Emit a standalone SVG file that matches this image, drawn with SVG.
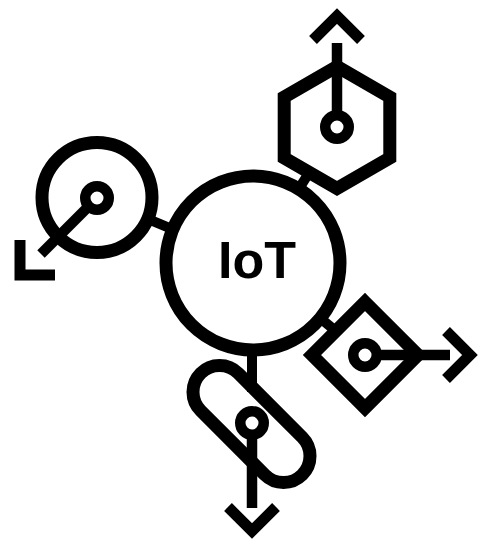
<svg xmlns="http://www.w3.org/2000/svg" width="481" height="540" viewBox="0 0 481 540">
<style>
.shape{fill:none;stroke:#000;stroke-width:13;stroke-miterlimit:10}
.stem{fill:none;stroke:#000;stroke-width:10.5}
.dot{fill:none;stroke:#000;stroke-width:10.5}
.chev{fill:none;stroke:#000;stroke-width:11;stroke-linejoin:miter;stroke-linecap:butt}
.conn{fill:none;stroke:#000;stroke-width:10}
.lbl{font-family:"Liberation Sans",Arial,sans-serif;font-weight:bold;font-size:52px;fill:#000}
</style>
<rect width="481" height="540" fill="#fff"/>
<g id="connectors">
<line class="conn" x1="298.8" y1="189" x2="308" y2="174.3"/>
<line class="conn" x1="147.7" y1="218.8" x2="172.8" y2="229.3"/>
<line class="conn" x1="320.2" y1="318.2" x2="335.9" y2="331.1"/>
<line class="conn" x1="252" y1="349" x2="252" y2="392"/>
</g>
<g id="iot">
<circle class="shape" cx="253" cy="263" r="87"/>
<text class="lbl" x="257" y="278" text-anchor="middle">IoT</text>
</g>
<g id="hexagon">
<polygon class="shape" points="337,66.5 389.8,97 389.8,158 337,188.5 284.2,158 284.2,97"/>
<line class="stem" x1="337" y1="116" x2="337" y2="43"/>
<circle class="dot" cx="337" cy="127" r="11.75"/>
<polyline class="chev" points="313,40 337,16 361,40"/>
</g>
<g id="circle-node">
<circle class="shape" cx="97" cy="197.5" r="55"/>
<line class="stem" x1="89" y1="206" x2="41" y2="254"/>
<circle class="dot" cx="97" cy="198" r="11.75"/>
<polyline class="chev" points="20,240 20,275 55,275"/>
</g>
<g id="diamond">
<polygon class="shape" points="365,302 418,355 365,408 312,355"/>
<line class="stem" x1="376" y1="355" x2="450" y2="355"/>
<circle class="dot" cx="365" cy="355" r="11.75"/>
<polyline class="chev" points="446,331 470,355 446,379"/>
</g>
<g id="pill">
<rect class="shape" x="179.75" y="397.5" width="143.5" height="53" rx="26.5" transform="rotate(45 251.5 424)"/>
<line class="stem" x1="252" y1="434" x2="252" y2="508"/>
<circle class="dot" cx="252" cy="423" r="11.75"/>
<polyline class="chev" points="228,507 252,531 276,507"/>
</g>
</svg>
